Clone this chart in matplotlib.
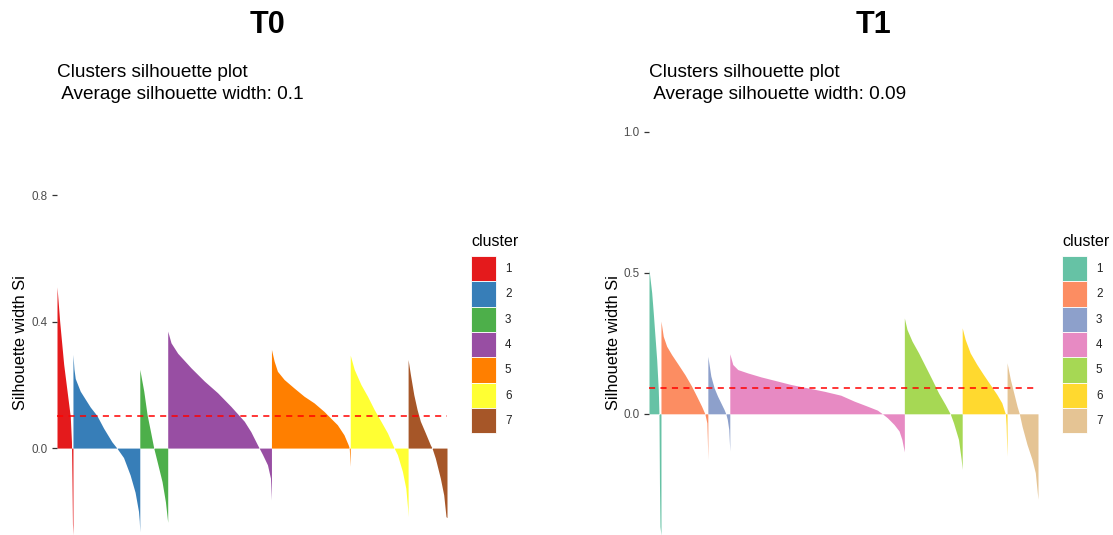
import matplotlib
matplotlib.use("Agg")
import matplotlib.pyplot as plt
import numpy as np
from matplotlib.patches import Patch

plt.rcParams['font.family'] = ['Liberation Sans', 'DejaVu Sans']

W, H = 1113, 535

# --- T0: silhouette widths, sampled along the sorted observations of each cluster ---
cluster_labels = ['1', '2', '3', '4', '5', '6', '7']

t0_sizes = [16, 67, 28, 104, 79, 58, 39]
t0_rank = [
    [0, 2.7, 6.7, 13.3, 14.5, 15, 15.5, 16],
    [0, 1, 2.3, 7.3, 17.3, 24, 30.7, 39, 44, 50.7, 57.3, 62.3, 65.7, 66.5, 67],
    [0, 4, 7.3, 10.7, 14, 17.3, 22.3, 25.7, 28],
    [0, 3.3, 10, 23.3, 36.7, 50, 63.3, 76.7, 83.3, 90, 91.7, 95, 100, 103, 104],
    [0, 2.7, 6, 12.7, 22.7, 32.7, 42.7, 52.7, 59.3, 66, 72.7, 77, 78, 79],
    [0, 4, 10.7, 17.3, 24, 30.7, 37.3, 44, 47.3, 52.3, 55.7, 57.5, 58],
    [0, 2.3, 5.7, 9, 12.3, 17.3, 22.3, 24, 27.3, 32.3, 35.7, 38, 39],
]
t0_sil = [
    [0.51, 0.40, 0.265, 0.10, 0.02, -0.10, -0.24, -0.275],
    [0.296, 0.25, 0.22, 0.18, 0.13, 0.103, 0.063, 0.02, 0.0, -0.03, -0.085, -0.14, -0.20, -0.23, -0.265],
    [0.249, 0.18, 0.106, 0.053, 0.0, -0.042, -0.106, -0.17, -0.235],
    [0.37, 0.333, 0.30, 0.254, 0.212, 0.175, 0.132, 0.085, 0.052, 0.01, 0.0, -0.02, -0.053, -0.095, -0.164],
    [0.312, 0.275, 0.243, 0.217, 0.19, 0.164, 0.143, 0.116, 0.095, 0.074, 0.042, 0.01, 0.0, -0.058],
    [0.294, 0.249, 0.201, 0.164, 0.122, 0.085, 0.048, 0.0, -0.021, -0.074, -0.127, -0.19, -0.217],
    [0.28, 0.233, 0.169, 0.122, 0.085, 0.048, 0.01, 0.0, -0.032, -0.095, -0.148, -0.217, -0.22],
]
t0_avg = 0.1

# --- T1 ---
t1_sizes = [12, 47, 22, 175, 58, 45, 31]
t1_rank = [
    [0, 2.7, 4.3, 6, 7.7, 9.3, 10, 10.5, 11, 12],
    [0, 2.3, 5.7, 10.7, 17.3, 24, 30.7, 35.7, 40.7, 44, 46, 46.5, 47],
    [0, 3, 6.3, 9.7, 13, 16.3, 18, 19.5, 21, 22],
    [0, 3, 8, 18, 31.3, 44.7, 61.3, 78, 94.7, 111.3, 124.7, 138, 148, 153, 158, 164.7, 169.7, 172.5, 175],
    [0, 2.7, 7.7, 14.3, 21, 27.7, 34.3, 41, 46, 49.3, 54.3, 57, 58],
    [0, 3, 8, 14.7, 21.3, 28, 34.7, 39.7, 42.3, 43.3, 44, 44.5, 45],
    [0, 3.3, 6.7, 10, 12.3, 15, 20, 25, 28.3, 30.3, 31],
]
t1_sil = [
    [0.512, 0.43, 0.358, 0.275, 0.193, 0.086, 0.0, -0.25, -0.40, -0.43],
    [0.329, 0.275, 0.24, 0.21, 0.175, 0.139, 0.098, 0.063, 0.027, 0.0, -0.032, -0.091, -0.162],
    [0.204, 0.134, 0.092, 0.063, 0.039, 0.015, 0.0, -0.02, -0.056, -0.132],
    [0.213, 0.175, 0.157, 0.145, 0.131, 0.119, 0.104, 0.092, 0.08, 0.066, 0.045, 0.027, 0.013, 0.0,
     -0.014, -0.038, -0.061, -0.091, -0.135],
    [0.34, 0.299, 0.258, 0.216, 0.169, 0.122, 0.074, 0.033, 0.0, -0.032, -0.091, -0.162, -0.197],
    [0.305, 0.264, 0.216, 0.175, 0.139, 0.104, 0.069, 0.039, 0.01, 0.0, -0.04, -0.10, -0.15],
    [0.181, 0.122, 0.074, 0.027, 0.0, -0.044, -0.109, -0.162, -0.209, -0.28, -0.303],
]
t1_avg = 0.09

set1 = ['#E41A1C', '#377EB8', '#4DAF4A', '#984EA3', '#FF7F00', '#FFFF33', '#A65628']
set2 = ['#66C2A5', '#FC8D62', '#8DA0CB', '#E78AC3', '#A6D854', '#FFD92F', '#E5C494']


def fx(px):
    return px / W


def fy(py):
    return 1 - py / H


def draw_panel(ax, sizes, ranks, sils, avg, colors, yticks):
    starts = np.concatenate([[0], np.cumsum(sizes)[:-1]])
    for s, r, v, c in zip(starts, ranks, sils, colors):
        ax.fill_between(s + np.array(r), v, 0, color=c, linewidth=0)
    ax.axhline(avg, color='red', linestyle=(0, (4, 3.5)), linewidth=1.1)
    ax.set_xlim(0, sum(sizes))
    ax.set_ylim(min(min(v) for v in sils), 1.0)
    ax.set_yticks(yticks)
    ax.set_yticklabels([f'{t:.1f}' for t in yticks])
    ax.set_xticks([])
    for sp in ax.spines.values():
        sp.set_visible(False)
    ax.tick_params(axis='y', length=3.5, width=0.9, color='#333333', pad=3.2,
                   labelsize=8.4, labelcolor='#4D4D4D')


fig = plt.figure(figsize=(W / 100, H / 100), dpi=100)

panels = [
    (57, 447, t0_sizes, t0_rank, t0_sil, t0_avg, set1, [0.0, 0.4, 0.8], 'T0', 268, 471),
    (649, 1038, t1_sizes, t1_rank, t1_sil, t1_avg, set2, [0.0, 0.5, 1.0], 'T1', 873, 1062),
]

for x0, x1, sizes, ranks, sils, avg, colors, yticks, name, tx, lx in panels:
    ax = fig.add_axes([fx(x0), 0, fx(x1) - fx(x0), fy(132)])
    draw_panel(ax, sizes, ranks, sils, avg, colors, yticks)

    fig.text(fx(tx), fy(33.3), name, ha='center', va='baseline', fontsize=22, fontweight='bold')
    fig.text(fx(x0), fy(77), 'Clusters silhouette plot ', ha='left', va='baseline', fontsize=13.7)
    fig.text(fx(x0), fy(99), f' Average silhouette width: {avg:g}', ha='left', va='baseline',
             fontsize=13.7)
    fig.text(fx(x0 - 36), fy(342.5), 'Silhouette width Si', rotation=90,
             ha='center', va='center', fontsize=11.8)

    # legend: title drawn as text, keys as a title-less legend underneath
    fig.text(fx(lx), fy(246), 'cluster', ha='left', va='baseline', fontsize=11.5)
    handles = [Patch(facecolor=c, edgecolor='white', linewidth=0.6) for c in colors]
    leg = ax.legend(handles, cluster_labels, loc='upper left',
                    bbox_to_anchor=(fx(lx), fy(256)), bbox_transform=fig.transFigure,
                    frameon=False, fontsize=8.4,
                    handlelength=2.14, handleheight=2.96, labelspacing=0,
                    handletextpad=0.77, borderpad=0, borderaxespad=0)
    for t in leg.get_texts():
        t.set_color('#222222')

fig.savefig('out.png', dpi=100)
